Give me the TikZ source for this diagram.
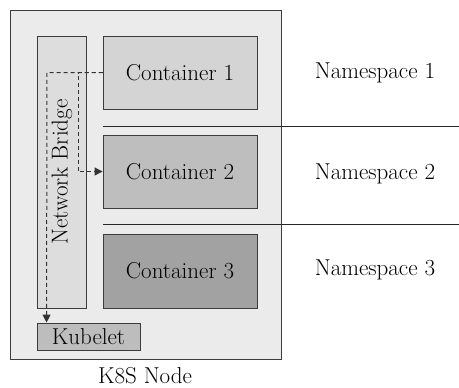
\documentclass[tikz,border=0pt]{standalone}
\usetikzlibrary{arrows.meta}
\definecolor{outerfill}{HTML}{EBEBEB}
\definecolor{bridgefill}{HTML}{DDDDDD}
\definecolor{cone}{HTML}{D4D4D4}
\definecolor{ctwo}{HTML}{BEBEBE}
\definecolor{cthree}{HTML}{A2A2A2}
\definecolor{kubfill}{HTML}{BDBDBD}
\definecolor{edge}{HTML}{3C3C3C}
\begin{document}
\begin{tikzpicture}[x=1pt,y=-1pt,
  box/.style={draw=edge, line width=0.9pt, inner sep=0pt},
  txt/.style={font=\fontsize{23}{26}\selectfont, text=black},
  sep/.style={draw=black!85, line width=0.9pt},
  flow/.style={draw=black!80, line width=1pt, dash pattern=on 4pt off 3pt, -{Triangle[length=8pt,width=8pt]}}]
\useasboundingbox (0,0) rectangle (459,388);
\node[box, fill=outerfill, minimum width=271pt, minimum height=349pt] (outer) at (145.5,184.5) {};
\node[box, fill=bridgefill, minimum width=49pt, minimum height=272pt] (bridge) at (61.5,172) {};
\node[txt, rotate=90] (bridgelbl) at (62,172) {Network Bridge};
\node[box, txt, fill=cone, minimum width=154pt, minimum height=73pt] (c1) at (180,72.5) {Container 1};
\node[box, txt, fill=ctwo, minimum width=154pt, minimum height=73pt] (c2) at (180,171.5) {Container 2};
\node[box, txt, fill=cthree, minimum width=154pt, minimum height=74pt] (c3) at (180,271) {Container 3};
\node[box, txt, fill=kubfill, minimum width=103pt, minimum height=27pt] (kub) at (88.5,336.5) {Kubelet};
\node[txt, inner sep=0pt, anchor=base] (k8s) at (145,383) {K8S Node};
\node[txt] (ns1) at (375,73) {Namespace 1};
\node[txt] (ns2) at (375,174) {Namespace 2};
\node[txt] (ns3) at (375,270) {Namespace 3};
\coordinate (s1a) at (103,126);
\coordinate (s1b) at (459,126);
\coordinate (s2a) at (103,224);
\coordinate (s2b) at (459,224);
\draw[sep] (s1a) -- (s1b);
\draw[sep] (s2a) -- (s2b);
\draw[flow] (c1.west) -- (47,72.5) -- ([xshift=10pt]kub.north west);
\draw[flow] (c1.west) -| (78,171.5) -- (c2.west);
\end{tikzpicture}
\end{document}
